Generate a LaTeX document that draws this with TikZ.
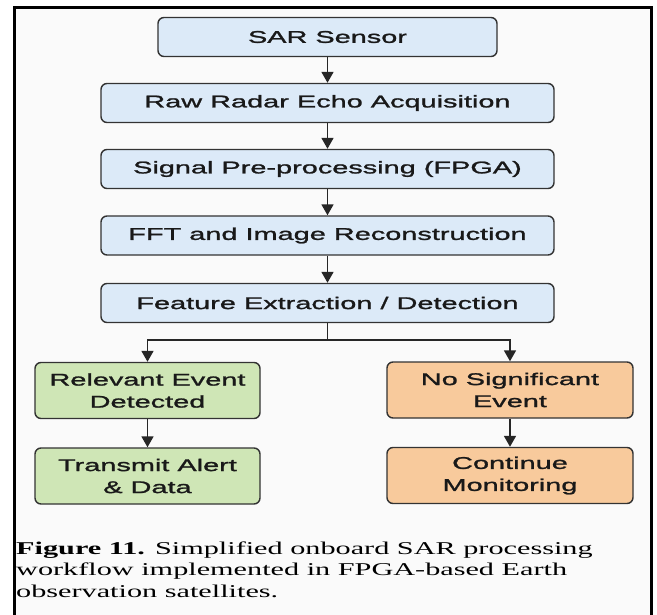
\documentclass[tikz,border=0pt]{standalone}
\usepackage{fontspec}
\usetikzlibrary{arrows.meta,positioning}
\newfontfamily\boxfont[FakeStretch=1.7,FakeBold=1.4]{Liberation Sans}
\newfontfamily\capfont[FakeStretch=1.68]{Liberation Serif}
\definecolor{edge}{HTML}{333333}
\definecolor{bluefill}{HTML}{DCEAF8}
\definecolor{greenfill}{HTML}{CFE6B6}
\definecolor{orangefill}{HTML}{F8CA9C}
\definecolor{panel}{HTML}{FAFAFA}
\begin{document}
\begin{tikzpicture}[x=1pt,y=-1pt,
  box/.style={draw=edge,line width=1.4pt,rounded corners=6pt,align=center,
    inner sep=0pt,font=\boxfont\fontsize{17}{22}\selectfont,text=black!90},
  mainbox/.style={box,fill=bluefill,minimum width=453pt,minimum height=39pt},
  yesbox/.style={box,fill=greenfill,minimum width=225pt,minimum height=56pt},
  nobox/.style={box,fill=orangefill,minimum width=246pt,minimum height=56pt},
  wire/.style={draw=black!85,line width=1.8pt},
  flow/.style={wire,-{Triangle[length=11pt,width=12pt]}}]
\useasboundingbox (0,0) rectangle (657,615);
% outer frame, open at the lower edge of the page
\fill[panel] (14.5,7.5) rectangle (651.5,620);
\draw[line width=2.6pt] (14.5,620) |- (651.5,7.5) -- (651.5,620);

% processing chain
\node[mainbox,minimum width=339pt] (sensor) at (327.5,37) {SAR Sensor};
\node[mainbox] (raw)  at (327.5,103)   {Raw Radar Echo Acquisition};
\node[mainbox] (pre)  at (327.5,169)   {Signal Pre-processing (FPGA)};
\node[mainbox] (fft)  at (327.5,235.5) {FFT and Image Reconstruction};
\node[mainbox] (feat) at (327.5,303)   {Feature Extraction / Detection};

% decision outcomes
\node[yesbox] (event) at (147.5,390.5) {Relevant Event\\Detected};
\node[yesbox] (alert) at (147.5,476)   {Transmit Alert\\\& Data};
\node[nobox]  (none)  at (510,390)     {No Significant\\Event};
\node[nobox]  (mon)   at (510,475.5)   {Continue\\Monitoring};

\draw[flow] (sensor) -- (raw);
\draw[flow] (raw) -- (pre);
\draw[flow] (pre) -- (fft);
\draw[flow] (fft) -- (feat);
\coordinate (split) at (327.5,340);
\draw[wire] (feat.south) -- (split);
\draw[flow] (split) -| (event.north);
\draw[flow] (split) -| (none.north);
\draw[flow] (event) -- (alert);
\draw[flow] (none) -- (mon);

% caption
\node[anchor=north west,align=left,inner sep=0pt,
  font=\capfont\fontsize{18}{21.5}\selectfont] (caption) at (16,541.5)
  {{\bfseries Figure 11.} Simplified onboard SAR processing\\
   workflow implemented in FPGA-based Earth\\
   observation satellites.};
\end{tikzpicture}
\end{document}
